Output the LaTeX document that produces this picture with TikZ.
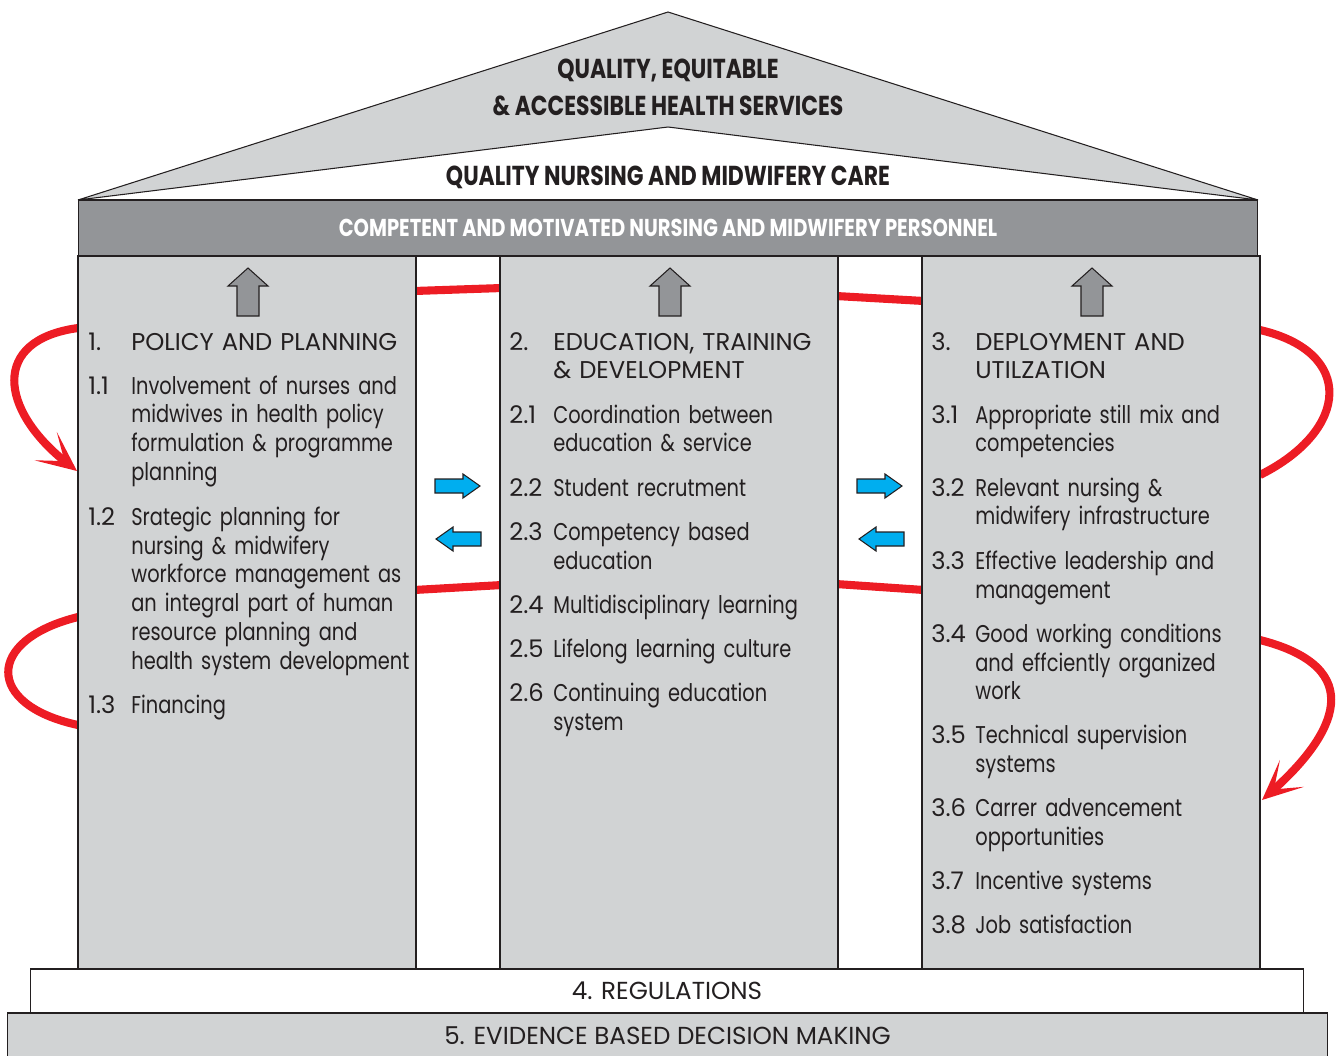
\documentclass[tikz,border=0pt]{standalone}
\usepackage{fontspec}
\setmainfont{Poppins}[FakeStretch=0.8]
\newfontfamily\capsfont{Poppins}
\newfontfamily\headfont{Poppins}[FakeStretch=0.8]
\usetikzlibrary{arrows.meta}

\definecolor{pillargrey}{HTML}{D1D3D4}
\definecolor{bandgrey}{HTML}{939598}
\definecolor{loopred}{HTML}{ED1C24}
\definecolor{flowblue}{HTML}{00AEEF}
\definecolor{ink}{HTML}{231F20}

\begin{document}
\begin{tikzpicture}[x=0.02cm, y=-0.02cm]

\tikzset{pillar/.style = {draw=ink, fill=pillargrey, line width=0.6pt}}
\tikzset{txt/.style = {anchor=base west, inner sep=0pt, text=ink, text width=6.6cm, align=left, font=\fontsize{13.8}{16.5}\selectfont}}
\tikzset{num/.style = {anchor=base west, inner sep=0pt, text=ink, font=\capsfont\fontsize{13.8}{16.5}\selectfont}}
\tikzset{caps/.style = {txt, font=\capsfont\fontsize{13.8}{16.5}\selectfont}}
\tikzset{head/.style = {inner sep=0pt, text=ink, font=\headfont\bfseries\fontsize{15.6}{17}\selectfont}}
\tikzset{base/.style = {draw=ink, line width=0.6pt, inner sep=0pt, text=ink, font=\capsfont\fontsize{14}{17}\selectfont}}
\tikzset{loop/.style = {draw=loopred, line width=4.6pt}}
\tikzset{loopend/.style = {loop, -{Stealth[length=0.8cm, width=0.72cm, inset=0.48cm]}}}
\tikzset{uparr/.pic = {\draw[draw=ink, fill=bandgrey, line width=0.6pt]
  (0,0) -- (20,18) -- (11,18) -- (11,48) -- (-11,48) -- (-11,18) -- (-20,18) -- cycle;}}
\tikzset{sidearr/.pic = {\draw[draw=ink, fill=flowblue, line width=0.6pt]
  (0,0) -- (-17,-12) -- (-17,-7) -- (-45,-7) -- (-45,7) -- (-17,7) -- (-17,12) -- cycle;}}

%loop ends
\coordinate (la1) at (78,328);
\coordinate (la2) at (77,471);
\coordinate (lb1) at (78,617);
\coordinate (lb2) at (78,725);
\coordinate (ra1) at (1260,330);
\coordinate (ra2) at (1260,475);
\coordinate (rb1) at (1260,640);
\coordinate (rb2) at (1262,800);
\coordinate (g1a) at (414,291);
\coordinate (g1b) at (502,288);
\coordinate (g2a) at (836,296);
\coordinate (g2b) at (924,301);
\coordinate (g3a) at (414,590);
\coordinate (g3b) at (502,585);
\coordinate (g4a) at (836,584);
\coordinate (g4b) at (924,590);

\useasboundingbox (0,0) rectangle (1337,1055);

%red loops
\draw[loopend] (la1) .. controls (-10,340) and (0,410) .. (la2);
\draw[loop] (lb1) .. controls (-15,640) and (-15,705) .. (lb2);
\draw[loop] (ra1) .. controls (1355,352) and (1350,430) .. (ra2);
\draw[loopend] (rb1) .. controls (1370,668) and (1335,735) .. (rb2);
\draw[loop] (g1a) -- (g1b);
\draw[loop] (g2a) -- (g2b);
\draw[loop] (g3a) -- (g3b);
\draw[loop] (g4a) -- (g4b);

%roof
\draw[draw=ink, fill=pillargrey, line width=0.6pt] (78,200) -- (668,12) -- (1258,200) -- (668,127) -- cycle;
\node[head] (goal1) at (668,71) {QUALITY, EQUITABLE};
\node[head] (goal2) at (668,106) {\& ACCESSIBLE HEALTH SERVICES};
\node[head] (care) at (668,177) {QUALITY NURSING AND MIDWIFERY CARE};
\node[draw=ink, fill=bandgrey, line width=0.6pt, minimum width=23.6cm, minimum height=1.12cm, inner sep=0pt,
  text=white, font=\headfont\bfseries\fontsize{13.9}{16}\selectfont] (staff) at (668,228)
  {COMPETENT AND MOTIVATED NURSING AND MIDWIFERY PERSONNEL};

%pillars
\draw[pillar] (78,256) rectangle (416,969);
\draw[pillar] (500,256) rectangle (838,969);
\draw[pillar] (922,256) rectangle (1260,969);
\pic at (248,268) {uparr};
\pic at (670,268) {uparr};
\pic at (1092,268) {uparr};
\pic at (480,486) {sidearr};
\pic[xscale=-1] at (436,539) {sidearr};
\pic at (902,486) {sidearr};
\pic[xscale=-1] at (859,539) {sidearr};

%pillar 1
\node[num] (n1) at (88,350) {1.};
\node[caps] (t1) at (131,350) {POLICY AND PLANNING};
\node[num] (n11) at (88,394) {1.1};
\node[txt] (t11) at (131,394) {Involvement of nurses and\\midwives in health policy\\formulation \& programme\\planning};
\node[num] (n12) at (88,525) {1.2};
\node[txt] (t12) at (131,525) {Srategic planning for\\nursing \& midwifery\\workforce management as\\an integral part of human\\resource planning and\\health system development};
\node[num] (n13) at (88,713) {1.3};
\node[txt] (t13) at (131,713) {Financing};

%pillar 2
\node[num] (n2) at (509,350) {2.};
\node[caps] (t2) at (553,350) {EDUCATION, TRAINING\\\& DEVELOPMENT};
\node[num] (n21) at (509,423) {2.1};
\node[txt] (t21) at (553,423) {Coordination between\\education \& service};
\node[num] (n22) at (509,496) {2.2};
\node[txt] (t22) at (553,496) {Student recrutment};
\node[num] (n23) at (509,540) {2.3};
\node[txt] (t23) at (553,540) {Competency based\\education};
\node[num] (n24) at (509,613) {2.4};
\node[txt] (t24) at (553,613) {Multidisciplinary learning};
\node[num] (n25) at (509,657) {2.5};
\node[txt] (t25) at (553,657) {Lifelong learning culture};
\node[num] (n26) at (509,701) {2.6};
\node[txt] (t26) at (553,701) {Continuing education\\system};

%pillar 3
\node[num] (n3) at (931,350) {3.};
\node[caps] (t3) at (975,350) {DEPLOYMENT AND\\UTILZATION};
\node[num] (n31) at (931,423) {3.1};
\node[txt] (t31) at (975,423) {Appropriate still mix and\\competencies};
\node[num] (n32) at (931,496) {3.2};
\node[txt] (t32) at (975,496) {Relevant nursing \&\\midwifery infrastructure};
\node[num] (n33) at (931,569) {3.3};
\node[txt] (t33) at (975,569) {Effective leadership and\\management};
\node[num] (n34) at (931,642) {3.4};
\node[txt] (t34) at (975,642) {Good working conditions\\and effciently organized\\work};
\node[num] (n35) at (931,743) {3.5};
\node[txt] (t35) at (975,743) {Technical supervision\\systems};
\node[num] (n36) at (931,816) {3.6};
\node[txt] (t36) at (975,816) {Carrer advencement\\opportunities};
\node[num] (n37) at (931,889) {3.7};
\node[txt] (t37) at (975,889) {Incentive systems};
\node[num] (n38) at (931,933) {3.8};
\node[txt] (t38) at (975,933) {Job satisfaction};

%foundation
\node[base, fill=white, minimum width=25.48cm, minimum height=0.88cm] (reg) at (667,991) {4. REGULATIONS};
\node[base, fill=pillargrey, minimum width=26.42cm, minimum height=0.9cm] (evid) at (667.5,1035.5) {5. EVIDENCE BASED DECISION MAKING};

\end{tikzpicture}
\end{document}
